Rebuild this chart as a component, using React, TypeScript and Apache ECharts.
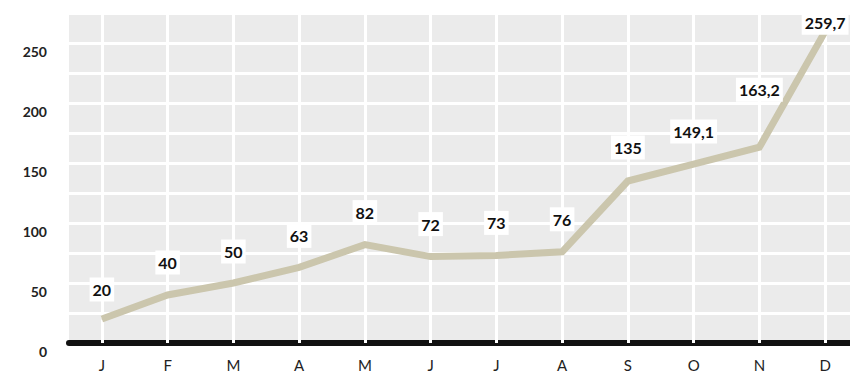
import React, { useEffect, useRef } from "react";
import * as echarts from "echarts";

const months = ["J", "F", "M", "A", "M", "J", "J", "A", "S", "O", "N", "D"];
const values = [20, 40, 50, 63, 82, 72, 73, 76, 135, 149.1, 163.2, 259.7];
const labelDistances = [17, 20, 19, 19, 20, 20, 20, 20, 21, 20, 45, -4];

export default function App() {
  const ref = useRef<HTMLDivElement>(null);
  useEffect(() => {
    if (!ref.current) return;
    const chart = echarts.init(ref.current, null, { renderer: "svg" });
    const cats = months.map((m, i) => m + "_" + i);
    chart.setOption({
      animation: false,
      grid: {
        left: 61,
        right: 0,
        top: 5,
        bottom: 37,
        show: true,
        backgroundColor: "#ebebeb",
        borderWidth: 0,
      },
      xAxis: {
        type: "category",
        data: cats,
        boundaryGap: true,
        z: 0,
        axisLine: { show: true, lineStyle: { color: "#111", width: 6 } },
        axisTick: { show: false },
        splitLine: { show: false },
        axisLabel: {
          formatter: (v: string) => v.split("_")[0],
          color: "#222",
          fontFamily: "Lato",
          fontSize: 15,
          margin: 14,
        },
      },
      yAxis: {
        type: "value",
        min: 0,
        max: 275,
        interval: 25,
        axisLine: { show: false },
        axisTick: { show: false },
        splitLine: { show: true, lineStyle: { color: "#ffffff", width: 3 } },
        axisLabel: {
          formatter: (v: number) => (v % 50 === 0 ? String(v) : ""),
          color: "#222",
          fontFamily: "Lato",
          fontWeight: "bold",
          fontSize: 14,
          margin: 22,
          verticalAlign: "top",
          padding: [1, 0, 0, 0],
        },
      },
      series: [
        {
          type: "line",
          data: values.map((v, i) => ({
            value: v,
            label: { distance: labelDistances[i] },
          })),
          symbol: "circle",
          symbolSize: 1,
          showSymbol: true,
          itemStyle: { color: "#cbc6ad" },
          lineStyle: { color: "#cbc6ad", width: 7, join: "miter" },
          z: 6,
          label: {
            show: true,
            position: "top",
            formatter: (p: any) => String(p.value).replace(".", ","),
            color: "#111",
            fontFamily: "Lato",
            fontWeight: "bold",
            fontSize: 16,
            backgroundColor: "#ffffff",
            padding: [4, 3],
          },
          markLine: {
            silent: true,
            symbol: "none",
            label: { show: false },
            lineStyle: { color: "#ffffff", width: 3, type: "solid" },
            data: cats.map((c) => ({ xAxis: c })),
            z: 4,
          },
        },
      ],
    });
    return () => chart.dispose();
  }, []);
  return <div ref={ref} style={{ width: 850, height: 372 }} />;
}
